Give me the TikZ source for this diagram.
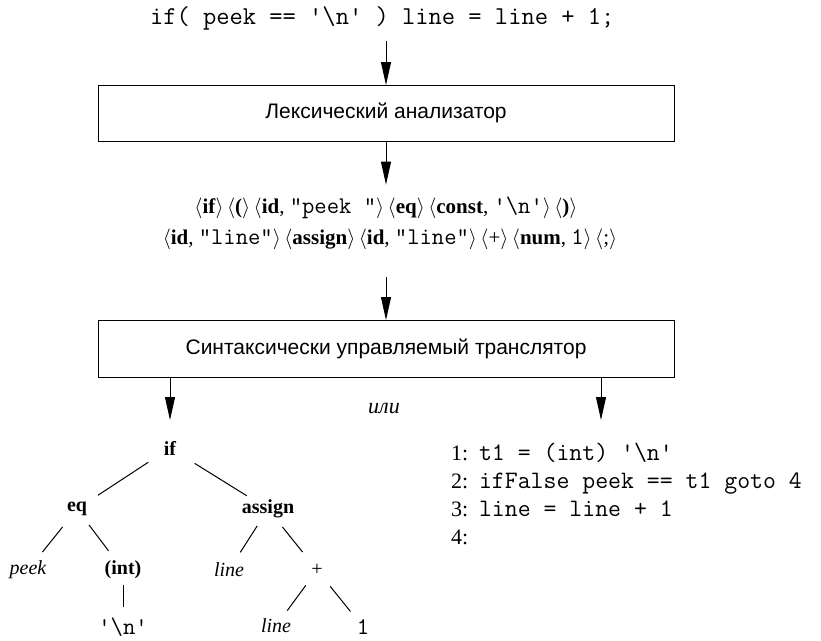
\documentclass[tikz,border=0pt]{standalone}
\usepackage{fontspec}
\setmainfont{Liberation Serif}
\setsansfont{Liberation Sans}
% typewriter face widened to the pitch of Courier
\setmonofont{Latin Modern Mono}[Scale=1.14]
\usetikzlibrary{arrows.meta}

% token in angle brackets
\newcommand{\tok}[1]{$\langle$#1$\rangle$}
\newcommand{\bs}{\textbackslash}
% line number of the three-address code
\newcommand{\tacnum}[1]{\makebox[28pt][l]{#1:}}

\begin{document}
\begin{tikzpicture}[x=1pt,y=-1pt,
  every node/.style={inner sep=0pt,outer sep=0pt},
  stagebox/.style={draw,line width=1pt,minimum width=576pt,minimum height=56pt,
    font=\sffamily\fontsize{21}{25}\selectfont},
  arr/.style={line width=1pt,-{Triangle[length=23pt,width=10pt]}},
  treefont/.style={font=\fontsize{20}{24}\selectfont},
  tnb/.style={font=\bfseries\fontsize{20}{24}\selectfont},
  tni/.style={font=\itshape\fontsize{20}{24}\selectfont},
  tnt/.style={font=\ttfamily\fontsize{21}{24}\selectfont},
  tedge/.style={line width=1pt,shorten <=22pt,shorten >=22pt}]
\useasboundingbox (0,0) rectangle (821,640);

% source line
\node[anchor=west,font=\ttfamily\fontsize{22.6}{27}\selectfont] (code) at (150,18)
  {if( peek == '\bs n' ) line = line + 1;};

% lexical analyser
\node[stagebox] (lex) at (386,113) {Лексический анализатор};
\draw[arr,shorten <=11pt] (code.south -| lex.north) -- (lex.north);

% token stream
\node[align=center,font=\fontsize{21}{31}\selectfont] (toks) at (386,223)
  {\tok{\textbf{if}}\,\tok{\textbf{(}}\,\tok{\textbf{id}, \texttt{"peek "}}\,\tok{\textbf{eq}}\,\tok{\textbf{const}, \texttt{'\bs n'}}\,\tok{\textbf{)}}\\
   \hspace*{8pt}\tok{\textbf{id}, \texttt{"line"}}\,\tok{\textbf{assign}}\,\tok{\textbf{id}, \texttt{"line"}}\,\tok{+}\,\tok{\textbf{num}, \texttt{1}}\,\tok{;}};
\draw[arr,shorten >=12pt] (lex.south) -- (toks.north);

% syntax-directed translator
\node[stagebox,minimum height=57pt] (sdt) at (386,348.5) {Синтаксически управляемый транслятор};
\draw[arr,shorten <=28pt] (toks.south) -- (sdt.north);

\node[font=\itshape\fontsize{22}{26}\selectfont] (ili) at (384,408) {или};

% syntax tree
\node[tnb] (if) at (170,448) {if};
\node[tnb] (eq) at (77,509) {eq};
\node[tnb] (assign) at (268,509) {assign};
\node[tni] (peek) at (28,570) {peek};
\node[tnb] (int) at (123,570) {(int)};
\node[tni] (line) at (229,570) {line};
\node[treefont] (plus) at (317,570) {+};
\node[tnt] (nl) at (123,627) {'\bs n'};
\node[tni] (line2) at (276,626) {line};
\node[tnt] (one) at (363,627) {1};

\draw[arr] (sdt.south -| if) -- ([yshift=28pt]if.center);

\draw[tedge,shorten <=26pt,shorten >=25pt] (if.center) -- (eq.center);
\draw[tedge,shorten <=29pt,shorten >=25pt] (if.center) -- (assign.center);
\draw[tedge,shorten <=23pt,shorten >=23pt] (eq.center) -- (peek.center);
\draw[tedge,shorten <=20pt,shorten >=24pt] (eq.center) -- (int.center);
\draw[tedge,shorten <=20pt,shorten >=21pt] (assign.center) -- (line.center);
\draw[tedge,shorten <=23pt,shorten >=23pt] (assign.center) -- (plus.center);
\draw[tedge,shorten <=15pt,shorten >=20pt] (int.center) -- (nl.center);
\draw[tedge,shorten <=19pt,shorten >=19pt] (plus.center) -- (line2.center);
\draw[tedge,shorten <=21pt,shorten >=20pt] (plus.center) -- (one.center);

% three-address code
\coordinate (tacin) at (601,420);
\draw[arr] (sdt.south -| tacin) -- (tacin);
\node[anchor=north west,align=left,font=\fontsize{22}{28}\selectfont] (tac) at (451,443)
  {\tacnum{1}\texttt{t1 = (int) '\bs n'}\\
   \tacnum{2}\texttt{ifFalse peek == t1 goto 4}\\
   \tacnum{3}\texttt{line = line + 1}\\
   \tacnum{4}};
\end{tikzpicture}
\end{document}
